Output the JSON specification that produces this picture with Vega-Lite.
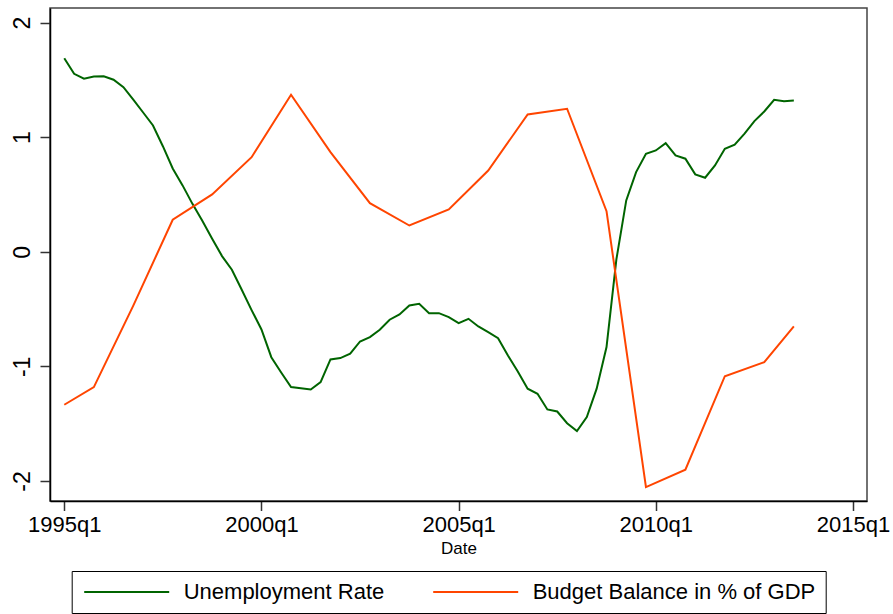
{
  "$schema": "https://vega.github.io/schema/vega-lite/v6.json",
  "autosize": {"type": "none"},
  "padding": {"left": 50, "top": 8, "right": 26, "bottom": 113},
  "width": 817,
  "height": 493,
  "background": "white",
  "config": {
    "font": "Liberation Sans",
    "view": {"stroke": "#444444", "strokeWidth": 1.5},
    "axis": {"grid": false, "domainColor": "#000000", "domainWidth": 1.5, "tickColor": "#333333", "tickWidth": 1.5, "labelColor": "#000000", "labelFont": "Liberation Sans", "titleFont": "Liberation Sans", "titleColor": "#000000", "titleFontWeight": "normal"}
  },
  "data": {
    "values": [
      {"t": 1995.00, "series": "Unemployment Rate", "value": 1.689},
      {"t": 1995.25, "series": "Unemployment Rate", "value": 1.553},
      {"t": 1995.50, "series": "Unemployment Rate", "value": 1.510},
      {"t": 1995.75, "series": "Unemployment Rate", "value": 1.530},
      {"t": 1996.00, "series": "Unemployment Rate", "value": 1.532},
      {"t": 1996.25, "series": "Unemployment Rate", "value": 1.501},
      {"t": 1996.50, "series": "Unemployment Rate", "value": 1.436},
      {"t": 1996.75, "series": "Unemployment Rate", "value": 1.328},
      {"t": 1997.00, "series": "Unemployment Rate", "value": 1.215},
      {"t": 1997.25, "series": "Unemployment Rate", "value": 1.102},
      {"t": 1997.50, "series": "Unemployment Rate", "value": 0.921},
      {"t": 1997.75, "series": "Unemployment Rate", "value": 0.727},
      {"t": 1998.00, "series": "Unemployment Rate", "value": 0.579},
      {"t": 1998.25, "series": "Unemployment Rate", "value": 0.418},
      {"t": 1998.50, "series": "Unemployment Rate", "value": 0.270},
      {"t": 1998.75, "series": "Unemployment Rate", "value": 0.113},
      {"t": 1999.00, "series": "Unemployment Rate", "value": -0.038},
      {"t": 1999.25, "series": "Unemployment Rate", "value": -0.157},
      {"t": 1999.50, "series": "Unemployment Rate", "value": -0.331},
      {"t": 1999.75, "series": "Unemployment Rate", "value": -0.509},
      {"t": 2000.00, "series": "Unemployment Rate", "value": -0.678},
      {"t": 2000.25, "series": "Unemployment Rate", "value": -0.920},
      {"t": 2000.50, "series": "Unemployment Rate", "value": -1.053},
      {"t": 2000.75, "series": "Unemployment Rate", "value": -1.181},
      {"t": 2001.00, "series": "Unemployment Rate", "value": -1.191},
      {"t": 2001.25, "series": "Unemployment Rate", "value": -1.202},
      {"t": 2001.50, "series": "Unemployment Rate", "value": -1.138},
      {"t": 2001.75, "series": "Unemployment Rate", "value": -0.940},
      {"t": 2002.00, "series": "Unemployment Rate", "value": -0.928},
      {"t": 2002.25, "series": "Unemployment Rate", "value": -0.890},
      {"t": 2002.50, "series": "Unemployment Rate", "value": -0.783},
      {"t": 2002.75, "series": "Unemployment Rate", "value": -0.745},
      {"t": 2003.00, "series": "Unemployment Rate", "value": -0.681},
      {"t": 2003.25, "series": "Unemployment Rate", "value": -0.593},
      {"t": 2003.50, "series": "Unemployment Rate", "value": -0.547},
      {"t": 2003.75, "series": "Unemployment Rate", "value": -0.469},
      {"t": 2004.00, "series": "Unemployment Rate", "value": -0.454},
      {"t": 2004.25, "series": "Unemployment Rate", "value": -0.536},
      {"t": 2004.50, "series": "Unemployment Rate", "value": -0.536},
      {"t": 2004.75, "series": "Unemployment Rate", "value": -0.571},
      {"t": 2005.00, "series": "Unemployment Rate", "value": -0.623},
      {"t": 2005.25, "series": "Unemployment Rate", "value": -0.585},
      {"t": 2005.50, "series": "Unemployment Rate", "value": -0.652},
      {"t": 2005.75, "series": "Unemployment Rate", "value": -0.702},
      {"t": 2006.00, "series": "Unemployment Rate", "value": -0.754},
      {"t": 2006.25, "series": "Unemployment Rate", "value": -0.905},
      {"t": 2006.50, "series": "Unemployment Rate", "value": -1.045},
      {"t": 2006.75, "series": "Unemployment Rate", "value": -1.195},
      {"t": 2007.00, "series": "Unemployment Rate", "value": -1.239},
      {"t": 2007.25, "series": "Unemployment Rate", "value": -1.376},
      {"t": 2007.50, "series": "Unemployment Rate", "value": -1.394},
      {"t": 2007.75, "series": "Unemployment Rate", "value": -1.496},
      {"t": 2008.00, "series": "Unemployment Rate", "value": -1.565},
      {"t": 2008.25, "series": "Unemployment Rate", "value": -1.443},
      {"t": 2008.50, "series": "Unemployment Rate", "value": -1.195},
      {"t": 2008.75, "series": "Unemployment Rate", "value": -0.832},
      {"t": 2009.00, "series": "Unemployment Rate", "value": -0.067},
      {"t": 2009.25, "series": "Unemployment Rate", "value": 0.448},
      {"t": 2009.50, "series": "Unemployment Rate", "value": 0.695},
      {"t": 2009.75, "series": "Unemployment Rate", "value": 0.855},
      {"t": 2010.00, "series": "Unemployment Rate", "value": 0.884},
      {"t": 2010.25, "series": "Unemployment Rate", "value": 0.948},
      {"t": 2010.50, "series": "Unemployment Rate", "value": 0.840},
      {"t": 2010.75, "series": "Unemployment Rate", "value": 0.812},
      {"t": 2011.00, "series": "Unemployment Rate", "value": 0.675},
      {"t": 2011.25, "series": "Unemployment Rate", "value": 0.646},
      {"t": 2011.50, "series": "Unemployment Rate", "value": 0.753},
      {"t": 2011.75, "series": "Unemployment Rate", "value": 0.899},
      {"t": 2012.00, "series": "Unemployment Rate", "value": 0.934},
      {"t": 2012.25, "series": "Unemployment Rate", "value": 1.030},
      {"t": 2012.50, "series": "Unemployment Rate", "value": 1.140},
      {"t": 2012.75, "series": "Unemployment Rate", "value": 1.224},
      {"t": 2013.00, "series": "Unemployment Rate", "value": 1.326},
      {"t": 2013.25, "series": "Unemployment Rate", "value": 1.314},
      {"t": 2013.50, "series": "Unemployment Rate", "value": 1.320},
      {"t": 1995.00, "series": "Budget Balance in % of GDP", "value": -1.335},
      {"t": 1995.75, "series": "Budget Balance in % of GDP", "value": -1.181},
      {"t": 1996.75, "series": "Budget Balance in % of GDP", "value": -0.470},
      {"t": 1997.75, "series": "Budget Balance in % of GDP", "value": 0.279},
      {"t": 1998.75, "series": "Budget Balance in % of GDP", "value": 0.500},
      {"t": 1999.75, "series": "Budget Balance in % of GDP", "value": 0.825},
      {"t": 2000.75, "series": "Budget Balance in % of GDP", "value": 1.370},
      {"t": 2001.75, "series": "Budget Balance in % of GDP", "value": 0.869},
      {"t": 2002.75, "series": "Budget Balance in % of GDP", "value": 0.424},
      {"t": 2003.75, "series": "Budget Balance in % of GDP", "value": 0.229},
      {"t": 2004.75, "series": "Budget Balance in % of GDP", "value": 0.369},
      {"t": 2005.75, "series": "Budget Balance in % of GDP", "value": 0.709},
      {"t": 2006.75, "series": "Budget Balance in % of GDP", "value": 1.198},
      {"t": 2007.75, "series": "Budget Balance in % of GDP", "value": 1.248},
      {"t": 2008.75, "series": "Budget Balance in % of GDP", "value": 0.354},
      {"t": 2009.75, "series": "Budget Balance in % of GDP", "value": -2.054},
      {"t": 2010.75, "series": "Budget Balance in % of GDP", "value": -1.902},
      {"t": 2011.75, "series": "Budget Balance in % of GDP", "value": -1.086},
      {"t": 2012.75, "series": "Budget Balance in % of GDP", "value": -0.963},
      {"t": 2013.50, "series": "Budget Balance in % of GDP", "value": -0.652}
    ]
  },
  "mark": {"type": "line", "strokeWidth": 2, "clip": true},
  "encoding": {
    "x": {
      "field": "t",
      "type": "quantitative",
      "scale": {"domain": [1994.638, 2015.355], "nice": false, "zero": false},
      "axis": {
        "values": [1995, 2000, 2005, 2010, 2015],
        "labelExpr": "datum.value + 'q1'",
        "labelFontSize": 22,
        "tickSize": 9.5,
        "labelPadding": 4,
        "title": "Date",
        "titleFontSize": 17,
        "titlePadding": 5
      }
    },
    "y": {
      "field": "value",
      "type": "quantitative",
      "scale": {"domain": [-2.175, 2.127], "nice": false, "zero": false},
      "axis": {
        "values": [-2, -1, 0, 1, 2],
        "labelExpr": "datum.value + ''",
        "labelFontSize": 23,
        "labelAngle": -90,
        "labelAlign": "center",
        "labelBaseline": "alphabetic",
        "tickSize": 10,
        "labelPadding": 11,
        "title": null
      }
    },
    "color": {
      "field": "series",
      "type": "nominal",
      "scale": {"domain": ["Unemployment Rate", "Budget Balance in % of GDP"], "range": ["#006400", "#ff4500"]},
      "legend": {
        "title": null,
        "orient": "none",
        "direction": "horizontal",
        "legendX": 21.7,
        "legendY": 563,
        "padding": 10,
        "strokeColor": "#000000",
        "fillColor": "white",
        "labelFontSize": 22,
        "labelColor": "#000000",
        "labelFont": "Liberation Sans",
        "labelLimit": 600,
        "symbolType": "M-1,0H9",
        "symbolSize": 289,
        "symbolStrokeWidth": 2,
        "labelOffset": 80,
        "columnPadding": 44
      }
    }
  }
}
